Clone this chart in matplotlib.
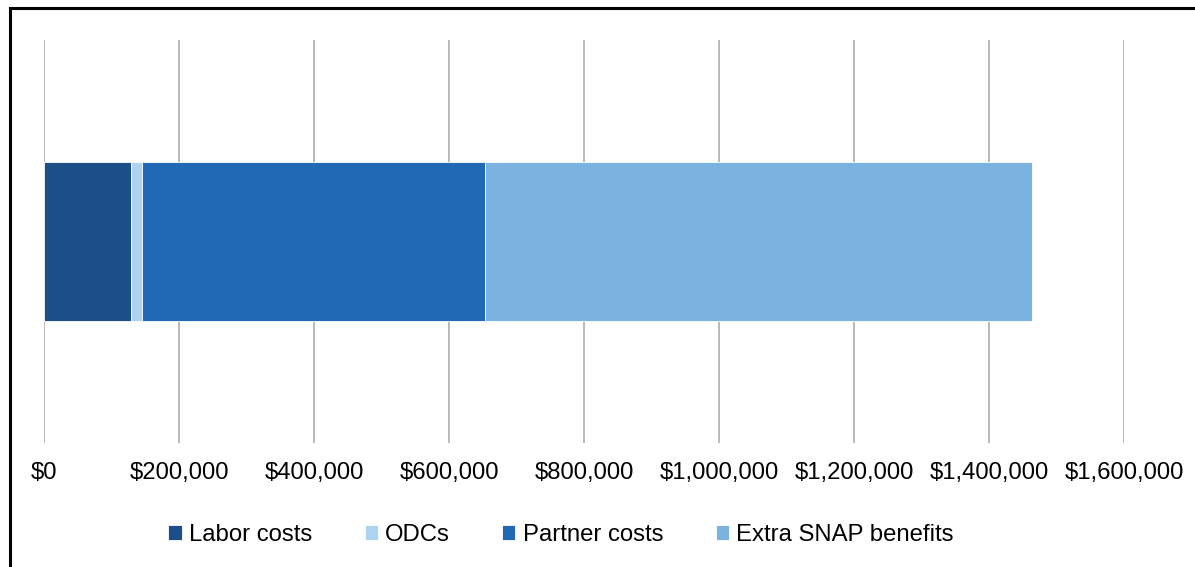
import matplotlib.pyplot as plt
from matplotlib.lines import Line2D
from matplotlib.ticker import FuncFormatter

# --- Data ---
categories = ["Labor costs", "ODCs", "Partner costs", "Extra SNAP benefits"]
values = [129000, 16000, 508000, 810000]
colors = ["#1C4E87", "#AED3EE", "#2269B5", "#7AB3E0"]
ticks = [0, 200000, 400000, 600000, 800000, 1000000, 1200000, 1400000, 1600000]

plt.rcParams["font.family"] = ["Liberation Sans", "DejaVu Sans"]

W, H = 1195, 567
fig = plt.figure(figsize=(W / 100, H / 100), dpi=100)
ax = fig.add_axes([44 / W, 1 - 443 / H, (1124 - 44) / W, (443 - 40) / H])

left = 0
for name, val, col in zip(categories, values, colors):
    ax.barh(0, val, left=left, height=0.397, color=col, label=name,
            edgecolor="#FFFFFF", linewidth=0.6, zorder=3)
    left += val

ax.set_xlim(0, 1600000)
ax.set_ylim(-0.5, 0.5)
ax.set_xticks(ticks)
ax.xaxis.set_major_formatter(FuncFormatter(lambda v, p: "${:,.0f}".format(v)))
ax.set_yticks([])
ax.tick_params(axis="x", length=0, pad=13.5, labelsize=17.2, colors="#000000")
ax.grid(axis="x", color="#A6A6A6", linewidth=1.1, zorder=0)
for s in ax.spines.values():
    s.set_visible(False)

fig.legend(loc="center", bbox_to_anchor=(561 / W, 1 - 535 / H), ncol=4,
           frameon=False, fontsize=17.2, handlelength=0.55, handleheight=0.55,
           handletextpad=0.3, columnspacing=2.2)

# outer frame (only top and left edges visible)
fig.add_artist(Line2D([10 / W, 10 / W], [0, 1 - 8 / H], transform=fig.transFigure,
                      color="black", linewidth=2.2))
fig.add_artist(Line2D([10 / W, 1], [1 - 8 / H, 1 - 8 / H], transform=fig.transFigure,
                      color="black", linewidth=2.2))

fig.savefig("out.png", dpi=100)
